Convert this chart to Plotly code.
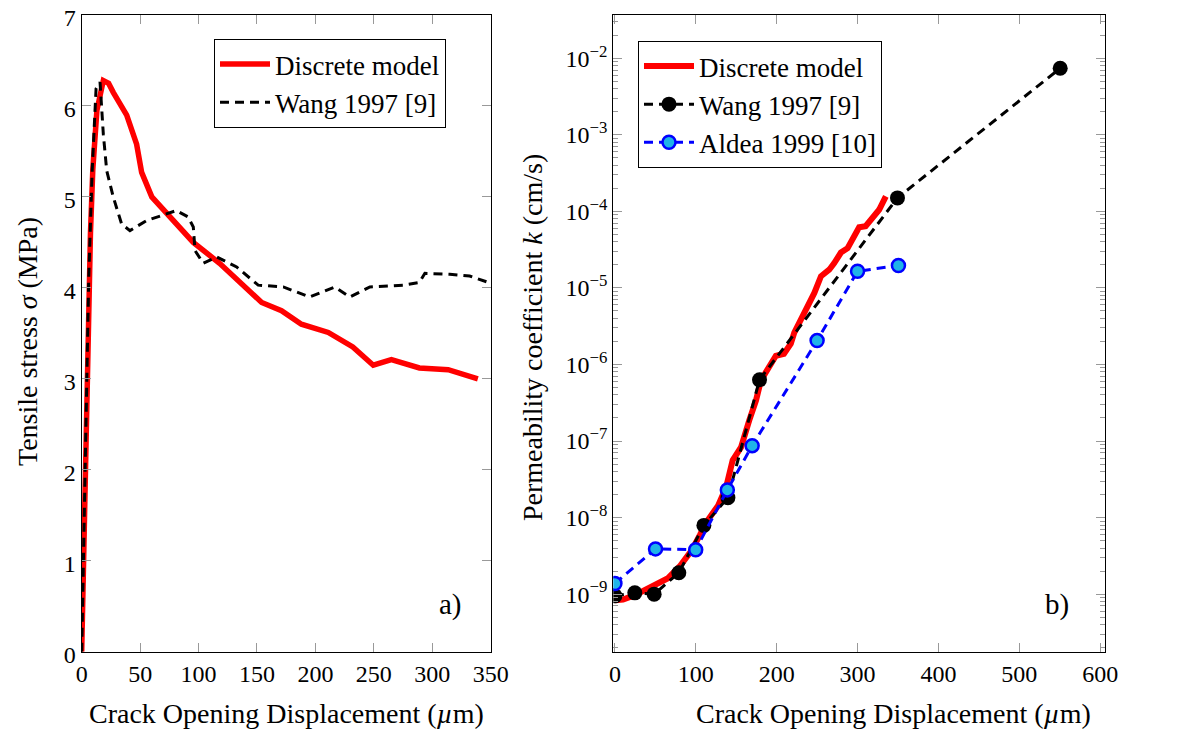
import plotly.graph_objects as go

# ---- Data: panel a) tensile stress vs COD ----
model_a_x = [0, 5, 7.5, 9.5, 13, 18.5, 23, 27, 38.5, 47, 51.3, 60, 75.5, 95.5, 118, 138, 154, 171, 188, 211, 232, 249.5, 265, 289, 313.6, 339]
model_a_y = [0, 3.4, 4.6, 5.3, 5.95, 6.28, 6.25, 6.15, 5.9, 5.58, 5.27, 5.0, 4.78, 4.5, 4.27, 4.03, 3.84, 3.75, 3.6, 3.51, 3.35, 3.15, 3.21, 3.12, 3.10, 3.0]

wang_a_x = [0, 3, 6, 9, 12.3, 15.7, 18.5, 21.4, 27, 34.2, 41.3, 55.6, 72.7, 81, 91, 95.5, 97, 104, 115.5, 132.6, 151, 172.5, 195, 216.7, 229.5, 246.6, 275, 289, 293.7, 315, 332, 348]
wang_a_y = [0, 2.2, 4.1, 5.3, 6.19, 6.26, 5.69, 5.29, 5.0, 4.70, 4.63, 4.74, 4.81, 4.85, 4.78, 4.67, 4.41, 4.27, 4.34, 4.23, 4.03, 4.01, 3.90, 4.01, 3.90, 4.01, 4.03, 4.06, 4.16, 4.15, 4.13, 4.06]

# ---- Data: panel b) permeability vs COD ----
model_b_x = [0, 10, 24.6, 48.5, 65, 80, 94.7, 105, 113, 127.7, 137.5, 145.6, 156, 166, 174.5, 180.6, 189, 199, 209, 217.5, 221.8, 230, 240, 246.6, 254.8, 265, 271, 279.5, 287.7, 296, 302, 310, 318.5, 326.7, 335]
model_b_y = [0.83e-9, 0.85e-9, 0.97e-9, 1.3e-9, 1.6e-9, 2.3e-9, 3.7e-9, 5.9e-9, 8.7e-9, 1.44e-8, 2.5e-8, 5.6e-8, 8.3e-8, 1.85e-7, 3.4e-7, 6.2e-7, 8.7e-7, 1.3e-6, 1.38e-6, 1.87e-6, 2.6e-6, 3.9e-6, 6.0e-6, 8.6e-6, 1.42e-5, 1.73e-5, 2.1e-5, 2.9e-5, 3.3e-5, 4.7e-5, 6.2e-5, 6.4e-5, 8.2e-5, 1.05e-4, 1.57e-4]

wang_b_x = [0, 24.6, 48.5, 79, 110, 139.7, 178.8, 349.4, 550.6]
wang_b_y = [0.95e-9, 1.04e-9, 1.0e-9, 1.9e-9, 7.9e-9, 1.82e-8, 6.3e-7, 1.5e-4, 7.4e-3]

aldea_b_x = [0, 50.2, 99.9, 139, 169.7, 250, 300, 350.6]
aldea_b_y = [1.38e-9, 3.9e-9, 3.8e-9, 2.3e-8, 8.7e-8, 2.05e-6, 1.65e-5, 1.96e-5]

x_ticks_a = [0, 50, 100, 150, 200, 250, 300, 350]
y_ticks_a = [0, 1, 2, 3, 4, 5, 6, 7]
x_ticks_b = [0, 100, 200, 300, 400, 500, 600]
y_exp_b = [-9, -8, -7, -6, -5, -4, -3, -2]

FONT = "Liberation Serif"
OFF = 8  # page body margin
W, H = 1196 - OFF, 734 - OFF

fig = go.Figure()

fig.add_trace(go.Scatter(x=model_a_x, y=model_a_y, mode="lines", name="Discrete model",
                         line=dict(color="#FF0000", width=5.5), xaxis="x", yaxis="y", legend="legend"))
fig.add_trace(go.Scatter(x=wang_a_x, y=wang_a_y, mode="lines", name="Wang 1997 [9]",
                         line=dict(color="black", width=3, dash="9px,6px"), xaxis="x", yaxis="y", legend="legend"))

fig.add_trace(go.Scatter(x=model_b_x, y=model_b_y, mode="lines", name="Discrete model",
                         line=dict(color="#FF0000", width=6), xaxis="x2", yaxis="y2", legend="legend2"))
fig.add_trace(go.Scatter(x=wang_b_x, y=wang_b_y, mode="lines+markers", name="Wang 1997 [9]",
                         line=dict(color="black", width=3, dash="9px,6px"),
                         marker=dict(color="black", size=15), xaxis="x2", yaxis="y2", legend="legend2"))
fig.add_trace(go.Scatter(x=aldea_b_x, y=aldea_b_y, mode="lines+markers", name="Aldea 1999 [10]",
                         line=dict(color="#0000FF", width=3, dash="9px,6px"),
                         marker=dict(color="#1FB4E8", size=13, line=dict(color="#0000FF", width=2.5)),
                         xaxis="x2", yaxis="y2", legend="legend2"))

def px_x(p):
    return (p - OFF) / W

def px_y(p):
    return 1 - (p - OFF) / H

common = dict(showline=True, linecolor="black", linewidth=1.2, mirror="allticks",
              ticks="inside", ticklen=9, tickcolor="#999999", tickwidth=1.2,
              showgrid=False, zeroline=False, automargin=False, ticklabeloverflow="allow",
              tickfont=dict(family=FONT, size=24, color="black"))

minor_vals = [k * 10.0 ** e for e in range(-10, -1) for k in range(2, 10)]

fig.update_layout(
    width=W, height=H,
    margin=dict(l=0, r=0, t=0, b=0, pad=0, autoexpand=False),
    plot_bgcolor="white", paper_bgcolor="white",
    font=dict(family=FONT, size=24, color="black"),
    xaxis=dict(domain=[px_x(81.7), px_x(490.7)], range=[0, 350], tickvals=x_ticks_a,
               anchor="y", **common),
    yaxis=dict(domain=[px_y(651.7), px_y(15)], range=[0, 7], tickvals=y_ticks_a,
               anchor="x", ticklabelshift=3, **common),
    xaxis2=dict(domain=[px_x(613.3), px_x(1105)], range=[-2, 606], tickvals=x_ticks_b,
                anchor="y2", **common),
    yaxis2=dict(domain=[px_y(651.7), px_y(15)], type="log", range=[-9.752, -1.435],
                tickvals=[10.0 ** e for e in y_exp_b],
                ticktext=["10<sup>\u2212%d</sup>" % (-e) for e in y_exp_b],
                minor=dict(tickvals=minor_vals, ticks="inside", ticklen=5, tickcolor="#999999", tickwidth=1),
                anchor="x2", **common),
    legend=dict(x=px_x(214), y=px_y(39), xanchor="left", yanchor="top",
                bgcolor="white", bordercolor="black", borderwidth=1,
                font=dict(family=FONT, size=27, color="black"), itemwidth=50),
    legend2=dict(x=px_x(638), y=px_y(41), xanchor="left", yanchor="top",
                 bgcolor="white", bordercolor="black", borderwidth=1,
                 font=dict(family=FONT, size=27, color="black"), itemwidth=50),
    showlegend=True,
)

ann = [
    dict(text="a)", x=px_x(450), y=px_y(604)),
    dict(text="b)", x=px_x(1057), y=px_y(604)),
    dict(text="Crack Opening Displacement (<i>\u00b5</i>m)", x=px_x(286), y=px_y(713)),
    dict(text="Crack Opening Displacement (<i>\u00b5</i>m)", x=px_x(893), y=px_y(713)),
    dict(text="Tensile stress <i>\u03c3</i> (MPa)", x=px_x(27), y=px_y(342), textangle=-90),
    dict(text="Permeability coefficient <i>k</i> (cm/s)", x=px_x(532), y=px_y(338), textangle=-90),
]
for a in ann:
    size = 29 if a["text"] in ("a)", "b)") else 28
    fig.add_annotation(xref="paper", yref="paper", showarrow=False,
                       xanchor="center", yanchor="middle",
                       font=dict(family=FONT, size=size, color="black"), **a)

fig.write_html("out.html")
